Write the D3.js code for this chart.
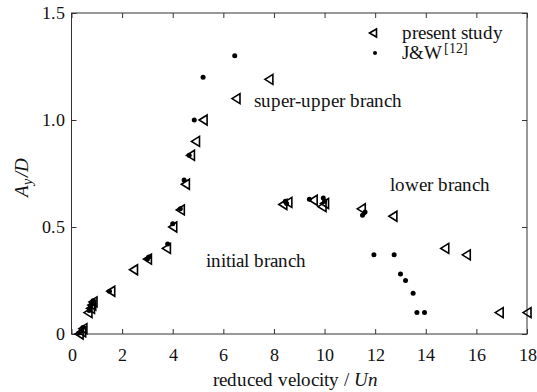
<!DOCTYPE html>
<html>
<head>
<meta charset="utf-8">
<script src="https://cdn.jsdelivr.net/npm/d3@7"></script>
<style>
  @font-face { font-family: "PlotSerif"; src: local("Liberation Serif"), local("LiberationSerif"), local("LiberationSerif-Regular"); font-style: normal; }
  @font-face { font-family: "PlotSerif"; src: local("Liberation Serif Italic"), local("LiberationSerif-Italic"); font-style: italic; }
</style>
</head>
<body style="margin:0">
<svg id="chart" width="537" height="392"></svg>
<script>
// Amplitude response A_y/D versus reduced velocity
const FONT = "PlotSerif, 'Liberation Serif', 'Times New Roman'";

const xTicks = [0, 2, 4, 6, 8, 10, 12, 14, 16, 18];
const yTicks = [0, 0.5, 1.0, 1.5];
const yTickLabels = ["0", "0.5", "1.0", "1.5"];

// present study (open left-pointing triangles)
const presentX = [0.3, 0.4, 0.45, 0.65, 0.75, 0.8, 0.85, 1.55, 2.45, 3.0, 3.75, 4.0, 4.3, 4.5, 4.7, 4.9, 5.2, 6.5, 7.8,
                  8.35, 8.55, 9.55, 9.9, 10.0, 11.45, 12.7, 14.75, 15.6, 16.9, 18.0];
const presentY = [0.0, 0.01, 0.025, 0.10, 0.12, 0.135, 0.15, 0.20, 0.30, 0.35, 0.40, 0.50, 0.58, 0.70, 0.835, 0.90, 1.0, 1.10, 1.19,
                  0.605, 0.615, 0.625, 0.595, 0.61, 0.585, 0.55, 0.40, 0.37, 0.10, 0.10];

// J&W [12] (filled dots)
const jwX = [0.3, 0.4, 0.45, 0.7, 0.75, 0.8, 0.85, 1.5, 3.0, 3.05, 3.8, 4.0, 4.3, 4.45, 4.65, 4.85, 5.2, 6.45,
             8.45, 8.5, 9.4, 9.95, 10.0, 11.5, 11.6, 11.95, 12.75, 13.0, 13.2, 13.5, 13.65, 13.95];
const jwY = [0.005, 0.015, 0.03, 0.11, 0.125, 0.14, 0.155, 0.20, 0.35, 0.36, 0.42, 0.515, 0.585, 0.72, 0.835, 1.0, 1.20, 1.30,
             0.62, 0.61, 0.63, 0.635, 0.62, 0.555, 0.57, 0.37, 0.37, 0.28, 0.25, 0.19, 0.10, 0.10];

// branch annotations (anchored at the start of each label, on its baseline)
const notes = [
  { text: "super-upper branch", x: 7.2, y: 1.06 },
  { text: "lower branch", x: 12.58, y: 0.668 },
  { text: "initial branch", x: 5.31, y: 0.313 }
];

const svg = d3.select("#chart");
const m = { left: 71.5, right: 527, top: 13, bottom: 334 };

const x = d3.scaleLinear().domain([0, 18]).range([m.left, m.right]);
const y = d3.scaleLinear().domain([0, 1.5]).range([m.bottom, m.top]);

const frameColor = "#333";
const tickLen = 5;

function draw() {
  svg.selectAll("*").remove();

  // frame
  svg.append("rect")
    .attr("x", m.left).attr("y", m.top)
    .attr("width", m.right - m.left).attr("height", m.bottom - m.top)
    .attr("fill", "none").attr("stroke", frameColor).attr("stroke-width", 1);

  const txt = (sel, size) => sel
    .style("font-family", FONT)
    .attr("font-size", size).attr("fill", "#111");

  // axes, ticks pointing inward on all four sides
  const axisStyle = g => {
    g.attr("font-family", null).attr("font-size", null);
    g.select(".domain").remove();
    g.selectAll(".tick line").attr("stroke", frameColor);
    g.selectAll(".tick text").call(txt, 18);
  };

  svg.append("g").attr("transform", `translate(0,${m.bottom})`)
    .call(d3.axisBottom(x).tickValues(xTicks).tickSize(-tickLen).tickPadding(14).tickFormat(d3.format("d")))
    .call(axisStyle);
  svg.append("g").attr("transform", `translate(0,${m.top})`)
    .call(d3.axisTop(x).tickValues(xTicks).tickSize(-tickLen).tickFormat(""))
    .call(axisStyle);
  svg.append("g").attr("transform", `translate(${m.left},0)`)
    .call(d3.axisLeft(y).tickValues(yTicks).tickSize(-tickLen).tickPadding(7).tickFormat((d, i) => yTickLabels[i]))
    .call(axisStyle);
  svg.append("g").attr("transform", `translate(${m.right},0)`)
    .call(d3.axisRight(y).tickValues(yTicks).tickSize(-tickLen).tickFormat(""))
    .call(axisStyle);

  // left-pointing triangle centred on the data point
  const tri = (w, h) => `M${-w / 2},0L${w / 2},${-h / 2}L${w / 2},${h / 2}Z`;

  const present = presentX.map((v, i) => ({ x: v, y: presentY[i] }));
  const jw = jwX.map((v, i) => ({ x: v, y: jwY[i] }));

  svg.append("g").selectAll("path").data(present).join("path")
    .attr("d", tri(8, 10))
    .attr("transform", d => `translate(${x(d.x)},${y(d.y)})`)
    .attr("fill", "none").attr("stroke", "#000").attr("stroke-width", 1.6);

  svg.append("g").selectAll("circle").data(jw).join("circle")
    .attr("cx", d => x(d.x)).attr("cy", d => y(d.y)).attr("r", 2.5)
    .attr("fill", "#000");

  // annotations
  svg.append("g").selectAll("text").data(notes).join("text")
    .call(txt, 19)
    .attr("x", d => x(d.x)).attr("y", d => y(d.y))
    .text(d => d.text);

  // legend
  const lg = svg.append("g");
  lg.append("path").attr("d", tri(7, 8)).attr("transform", "translate(373,33)")
    .attr("fill", "none").attr("stroke", "#000").attr("stroke-width", 1.6);
  lg.append("text").call(txt, 19).attr("x", 402).attr("y", 39).text("present study");
  lg.append("circle").attr("cx", 375).attr("cy", 53).attr("r", 2).attr("fill", "#000");
  const jwText = lg.append("text").call(txt, 19).attr("x", 402).attr("y", 59);
  jwText.append("tspan").text("J&W");
  jwText.append("tspan").attr("font-size", 14).attr("dx", 2).attr("dy", -6).text("[12]");

  // axis titles
  const xt = svg.append("text").call(txt, 19).attr("x", 295).attr("y", 386).attr("text-anchor", "middle");
  xt.append("tspan").text("reduced velocity / ");
  xt.append("tspan").attr("font-style", "italic").text("Un");

  const yt = svg.append("text").call(txt, 19).attr("transform", "translate(28,177) rotate(-90)")
    .attr("text-anchor", "middle").attr("font-style", "italic");
  yt.append("tspan").text("A");
  yt.append("tspan").attr("font-size", 14).attr("dy", 4).text("y");
  yt.append("tspan").attr("dy", -4).attr("dx", 2).text("/D");
}

draw();
// draw again once the serif face has loaded
if (document.fonts && document.fonts.load) {
  document.fonts.load("19px PlotSerif").then(draw, draw);
}
</script>
</body>
</html>
